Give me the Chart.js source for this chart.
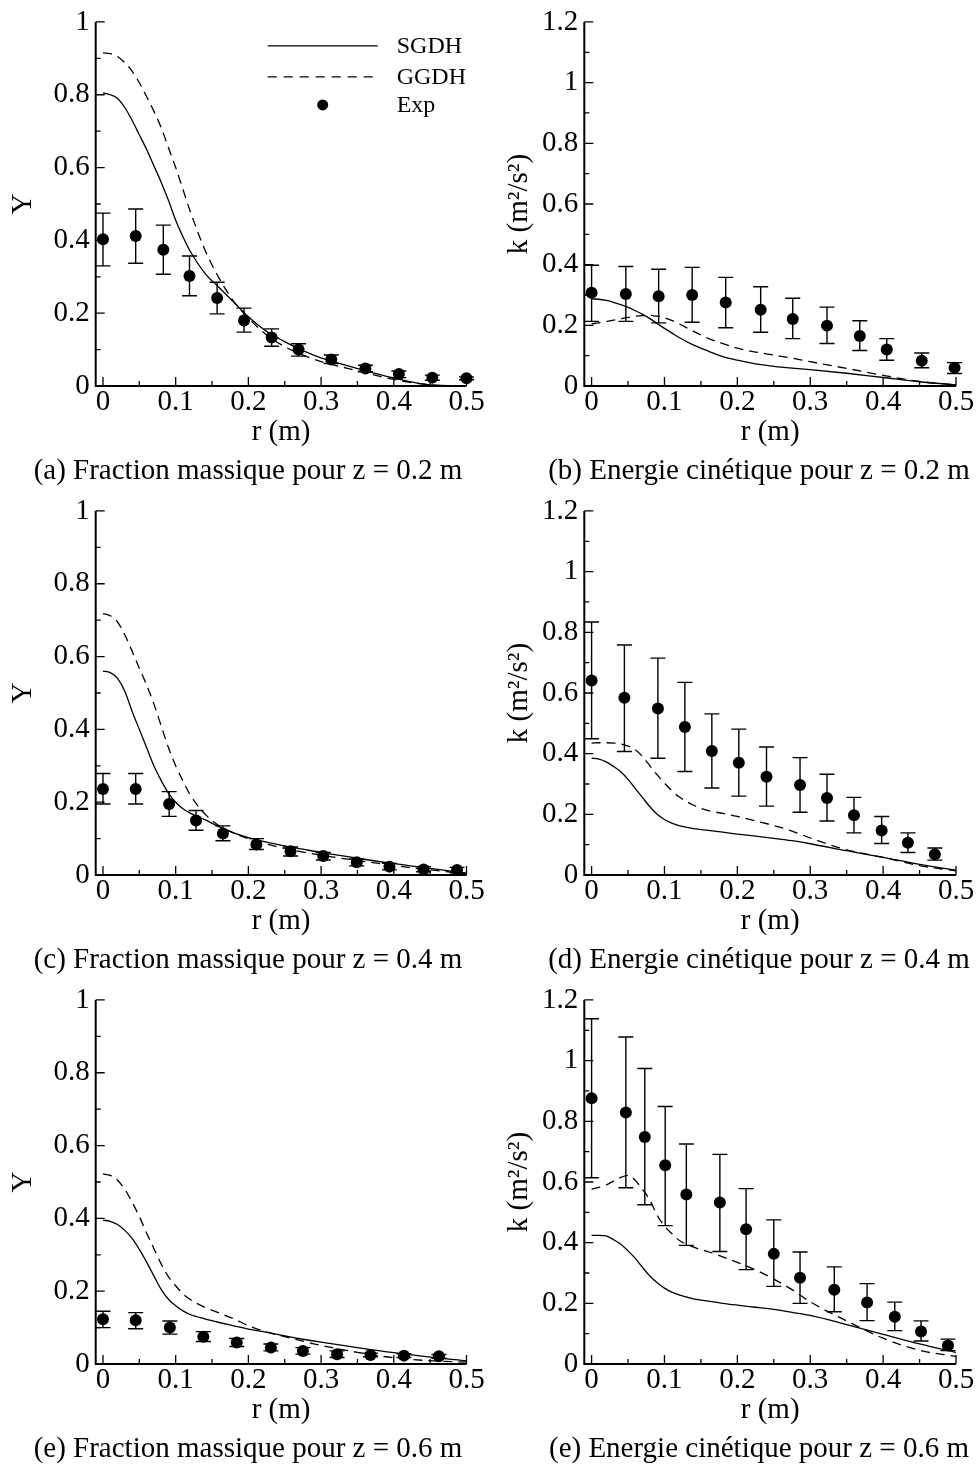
<!DOCTYPE html>
<html>
<head>
<meta charset="utf-8">
<script src="https://cdn.jsdelivr.net/npm/chart.js@4.4.0/dist/chart.umd.min.js"></script>
<style>
  body { margin: 0; background: #fff; }
  #fig { position: relative; width: 977px; height: 1466px; overflow: hidden;
         font-family: 'Liberation Serif', 'Times New Roman', serif; color: #000; }
  #fig canvas { position: absolute; }
  .cap { position: absolute; font-size: 29px; line-height: 34px; white-space: nowrap;
         transform: translateX(-50%); }
</style>
</head>
<body>
<div id="fig"></div>
<script>
// radial positions where the model curves were read
const rCurve = [0, 0.01, 0.02, 0.03, 0.04, 0.05, 0.06, 0.07, 0.08, 0.09, 0.10, 0.11, 0.12,
                0.14, 0.16, 0.18, 0.20, 0.225, 0.25, 0.275, 0.30, 0.35, 0.40, 0.45, 0.50];

// (a) Y, z = 0.2 m
const sgdhA = [0.805, 0.80, 0.79, 0.765, 0.73, 0.69, 0.65, 0.605, 0.56, 0.51, 0.455, 0.41, 0.37,
               0.31, 0.27, 0.23, 0.19, 0.15, 0.122, 0.097, 0.077, 0.048, 0.022, 0.003, 0.0];
const ggdhA = [0.915, 0.913, 0.905, 0.888, 0.865, 0.833, 0.795, 0.755, 0.71, 0.655, 0.60, 0.54, 0.48,
               0.375, 0.295, 0.232, 0.187, 0.14, 0.108, 0.085, 0.067, 0.042, 0.018, 0.003, 0.0];
const expR_a  = [0, 0.045, 0.083, 0.119, 0.157, 0.194, 0.232, 0.269, 0.314, 0.361, 0.407, 0.453, 0.5];
const expY_a  = [0.403, 0.412, 0.374, 0.302, 0.242, 0.18, 0.133, 0.1, 0.073, 0.048, 0.033, 0.023, 0.021];
const expHi_a = [0.475, 0.486, 0.442, 0.357, 0.285, 0.214, 0.157, 0.116, 0.085, 0.057, 0.041, 0.03, 0.025];
const expLo_a = [0.33, 0.337, 0.307, 0.248, 0.198, 0.148, 0.109, 0.082, 0.062, 0.039, 0.023, 0.016, 0.017];

// (b) k, z = 0.2 m
const sgdhB = [0.287, 0.286, 0.282, 0.276, 0.268, 0.259, 0.248, 0.236, 0.222, 0.206, 0.19, 0.175, 0.16,
               0.135, 0.115, 0.097, 0.085, 0.073, 0.065, 0.059, 0.054, 0.042, 0.028, 0.014, 0.004];
const ggdhB = [0.205, 0.208, 0.212, 0.217, 0.222, 0.226, 0.23, 0.232, 0.233, 0.23, 0.225, 0.216, 0.205,
               0.18, 0.157, 0.14, 0.125, 0.112, 0.102, 0.092, 0.08, 0.058, 0.035, 0.015, 0.004];
const expR_b  = [0, 0.047, 0.092, 0.138, 0.184, 0.232, 0.276, 0.323, 0.368, 0.405, 0.453, 0.498];
const expY_b  = [0.307, 0.303, 0.296, 0.3, 0.275, 0.251, 0.221, 0.199, 0.165, 0.12, 0.083, 0.06];
const expHi_b = [0.398, 0.394, 0.385, 0.391, 0.358, 0.327, 0.289, 0.26, 0.215, 0.156, 0.109, 0.077];
const expLo_b = [0.213, 0.213, 0.208, 0.21, 0.192, 0.177, 0.156, 0.14, 0.117, 0.085, 0.06, 0.041];

// (c) Y, z = 0.4 m
const sgdhC = [0.56, 0.556, 0.54, 0.505, 0.45, 0.40, 0.35, 0.30, 0.26, 0.225, 0.20, 0.182, 0.17,
               0.152, 0.132, 0.116, 0.103, 0.09, 0.08, 0.071, 0.062, 0.046, 0.031, 0.018, 0.005];
const ggdhC = [0.718, 0.712, 0.695, 0.66, 0.615, 0.568, 0.522, 0.47, 0.41, 0.35, 0.30, 0.258, 0.22,
               0.168, 0.135, 0.115, 0.10, 0.085, 0.073, 0.063, 0.054, 0.04, 0.026, 0.014, 0.004];
const expR_c  = [0, 0.045, 0.091, 0.128, 0.165, 0.211, 0.258, 0.303, 0.349, 0.394, 0.441, 0.487];
const expY_c  = [0.236, 0.236, 0.195, 0.15, 0.114, 0.084, 0.065, 0.052, 0.035, 0.023, 0.015, 0.014];
const expHi_c = [0.279, 0.279, 0.229, 0.177, 0.135, 0.1, 0.077, 0.062, 0.044, 0.032, 0.023, 0.021];
const expLo_c = [0.195, 0.195, 0.161, 0.123, 0.094, 0.07, 0.052, 0.041, 0.025, 0.014, 0.009, 0.006];

// (d) k, z = 0.4 m
const sgdhD = [0.385, 0.382, 0.373, 0.358, 0.34, 0.315, 0.285, 0.255, 0.225, 0.20, 0.183, 0.171, 0.163,
               0.153, 0.147, 0.141, 0.135, 0.128, 0.121, 0.113, 0.103, 0.08, 0.058, 0.035, 0.016];
const ggdhD = [0.435, 0.436, 0.436, 0.435, 0.432, 0.425, 0.413, 0.39, 0.36, 0.33, 0.303, 0.278, 0.258,
               0.23, 0.212, 0.203, 0.193, 0.178, 0.163, 0.145, 0.122, 0.083, 0.058, 0.031, 0.014];
const expR_d  = [0, 0.045, 0.091, 0.128, 0.165, 0.202, 0.24, 0.286, 0.323, 0.36, 0.398, 0.434, 0.471];
const expY_d  = [0.641, 0.584, 0.549, 0.488, 0.409, 0.37, 0.324, 0.297, 0.254, 0.197, 0.147, 0.106, 0.068];
const expHi_d = [0.834, 0.758, 0.715, 0.635, 0.531, 0.481, 0.422, 0.387, 0.332, 0.256, 0.193, 0.139, 0.089];
const expLo_d = [0.449, 0.407, 0.385, 0.341, 0.287, 0.26, 0.227, 0.207, 0.178, 0.139, 0.104, 0.074, 0.049];

// (e) Y, z = 0.6 m
const sgdhE = [0.395, 0.392, 0.383, 0.367, 0.345, 0.315, 0.28, 0.242, 0.205, 0.178, 0.16, 0.146, 0.136,
               0.124, 0.114, 0.105, 0.096, 0.087, 0.077, 0.068, 0.06, 0.045, 0.031, 0.019, 0.009];
const ggdhE = [0.522, 0.518, 0.505, 0.48, 0.445, 0.405, 0.36, 0.317, 0.275, 0.24, 0.215, 0.193, 0.177,
               0.156, 0.14, 0.124, 0.105, 0.088, 0.075, 0.063, 0.051, 0.032, 0.017, 0.009, 0.005];
const expR_e  = [0, 0.045, 0.092, 0.138, 0.184, 0.231, 0.275, 0.322, 0.368, 0.414, 0.462];
const expY_e  = [0.123, 0.12, 0.1, 0.075, 0.059, 0.045, 0.036, 0.027, 0.025, 0.023, 0.021];
const expHi_e = [0.145, 0.141, 0.118, 0.089, 0.07, 0.055, 0.045, 0.036, 0.03, 0.028, 0.026];
const expLo_e = [0.1, 0.097, 0.082, 0.062, 0.048, 0.036, 0.027, 0.018, 0.02, 0.018, 0.016];

// (e) k, z = 0.6 m
const sgdhF = [0.424, 0.424, 0.422, 0.41, 0.395, 0.373, 0.348, 0.318, 0.29, 0.268, 0.25, 0.237, 0.228,
               0.215, 0.207, 0.20, 0.194, 0.187, 0.18, 0.17, 0.16, 0.13, 0.098, 0.066, 0.038];
const ggdhF = [0.576, 0.582, 0.59, 0.603, 0.615, 0.622, 0.605, 0.575, 0.54, 0.49, 0.455, 0.43, 0.408,
               0.385, 0.37, 0.353, 0.335, 0.31, 0.28, 0.245, 0.205, 0.142, 0.085, 0.045, 0.025];
const expR_f  = [0, 0.047, 0.073, 0.101, 0.13, 0.176, 0.212, 0.25, 0.286, 0.333, 0.378, 0.416, 0.452, 0.489];
const expY_f  = [0.876, 0.829, 0.748, 0.655, 0.559, 0.532, 0.444, 0.363, 0.284, 0.245, 0.203, 0.156, 0.107, 0.061];
const expHi_f = [1.138, 1.078, 0.974, 0.849, 0.725, 0.691, 0.578, 0.475, 0.369, 0.32, 0.265, 0.204, 0.142, 0.082];
const expLo_f = [0.614, 0.581, 0.525, 0.456, 0.391, 0.371, 0.311, 0.256, 0.2, 0.172, 0.143, 0.11, 0.076, 0.044];

// axes
const xTicks = [0, 0.1, 0.2, 0.3, 0.4, 0.5];
const xMinor = [0.05, 0.15, 0.25, 0.35, 0.45];
const yTicksY = [0, 0.2, 0.4, 0.6, 0.8, 1];
const yMinorY = [0.1, 0.3, 0.5, 0.7, 0.9];
const yTicksK = [0, 0.2, 0.4, 0.6, 0.8, 1, 1.2];
const yMinorK = [0.1, 0.3, 0.5, 0.7, 0.9, 1.1];
const legendLabels = ['SGDH', 'GGDH', 'Exp'];

const FONT = "'Liberation Serif', 'Times New Roman', serif";
const fmt = v => String(Number(Number(v).toFixed(2)));

// inward ticks + left/bottom axis lines
const inwardAxes = {
  id: 'inwardAxes',
  afterDraw(chart, args, o) {
    const { ctx, chartArea: a, scales: { x, y } } = chart;
    ctx.save();
    ctx.strokeStyle = '#000';
    ctx.lineWidth = 1.3;
    ctx.beginPath();
    xTicks.forEach(v => { const p = x.getPixelForValue(v); ctx.moveTo(p, a.bottom); ctx.lineTo(p, a.bottom - 9); });
    xMinor.forEach(v => { const p = x.getPixelForValue(v); ctx.moveTo(p, a.bottom); ctx.lineTo(p, a.bottom - 5); });
    o.major.forEach(v => { const p = y.getPixelForValue(v); ctx.moveTo(a.left, p); ctx.lineTo(a.left + 9, p); });
    o.minor.forEach(v => { const p = y.getPixelForValue(v); ctx.moveTo(a.left, p); ctx.lineTo(a.left + 5, p); });
    ctx.stroke();
    ctx.lineWidth = 2;
    ctx.beginPath();
    ctx.moveTo(a.left, a.top);
    ctx.lineTo(a.left, a.bottom);
    ctx.lineTo(a.right, a.bottom);
    ctx.stroke();
    ctx.restore();
  }
};

// vertical error bars with caps on the Exp dataset
const errorBars = {
  id: 'errorBars',
  afterDatasetsDraw(chart, args, o) {
    const { ctx, scales: { x, y } } = chart;
    ctx.save();
    ctx.strokeStyle = '#000';
    ctx.lineWidth = 1.4;
    ctx.beginPath();
    o.r.forEach((r, i) => {
      const px = x.getPixelForValue(r);
      const hi = y.getPixelForValue(o.hi[i]);
      const lo = y.getPixelForValue(o.lo[i]);
      ctx.moveTo(px, hi); ctx.lineTo(px, lo);
      ctx.moveTo(px - 7.5, hi); ctx.lineTo(px + 7.5, hi);
      ctx.moveTo(px - 7.5, lo); ctx.lineTo(px + 7.5, lo);
    });
    ctx.stroke();
    ctx.restore();
  }
};

// legend box in panel (a)
const panelLegend = {
  id: 'panelLegend',
  afterDraw(chart, args, o) {
    if (!o.show) return;
    const { ctx, chartArea: a } = chart;
    const x0 = a.left + 172, x1 = a.left + 282, tx = a.left + 301;
    const rows = [a.top + 24, a.top + 55, a.top + 83];
    ctx.save();
    ctx.strokeStyle = '#000';
    ctx.lineWidth = 1.3;
    ctx.beginPath(); ctx.moveTo(x0, rows[0]); ctx.lineTo(x1, rows[0]); ctx.stroke();
    ctx.setLineDash([9, 7]);
    ctx.beginPath(); ctx.moveTo(x0, rows[1]); ctx.lineTo(x1, rows[1]); ctx.stroke();
    ctx.setLineDash([]);
    ctx.fillStyle = '#000';
    ctx.beginPath(); ctx.arc((x0 + x1) / 2, rows[2], 5.5, 0, Math.PI * 2); ctx.fill();
    ctx.font = "24px " + FONT;
    ctx.textBaseline = 'middle';
    ctx.textAlign = 'left';
    legendLabels.forEach((t, i) => ctx.fillText(t, tx, rows[i] + 1));
    ctx.restore();
  }
};

const panels = [
  { left: 0,   top: 0,   w: 489, kind: 'Y', sgdh: sgdhA, ggdh: ggdhA, r: expR_a, v: expY_a, hi: expHi_a, lo: expLo_a,
    cap: '(a) Fraction massique pour z = 0.2 m', legend: true },
  { left: 489, top: 0,   w: 488, kind: 'k', sgdh: sgdhB, ggdh: ggdhB, r: expR_b, v: expY_b, hi: expHi_b, lo: expLo_b,
    cap: '(b) Energie cinétique pour z = 0.2 m' },
  { left: 0,   top: 489, w: 489, kind: 'Y', sgdh: sgdhC, ggdh: ggdhC, r: expR_c, v: expY_c, hi: expHi_c, lo: expLo_c,
    cap: '(c) Fraction massique pour z = 0.4 m' },
  { left: 489, top: 489, w: 488, kind: 'k', sgdh: sgdhD, ggdh: ggdhD, r: expR_d, v: expY_d, hi: expHi_d, lo: expLo_d,
    cap: '(d) Energie cinétique pour z = 0.4 m' },
  { left: 0,   top: 978, w: 489, kind: 'Y', sgdh: sgdhE, ggdh: ggdhE, r: expR_e, v: expY_e, hi: expHi_e, lo: expLo_e,
    cap: '(e) Fraction massique pour z = 0.6 m' },
  { left: 489, top: 978, w: 488, kind: 'k', sgdh: sgdhF, ggdh: ggdhF, r: expR_f, v: expY_f, hi: expHi_f, lo: expLo_f,
    cap: '(e) Energie cinétique pour z = 0.6 m' },
];

const fig = document.getElementById('fig');
const H = 489;

panels.forEach(p => {
  const isY = p.kind === 'Y';
  const chartLeft = p.left === 0 ? 95.7 : 95.3;
  const chartRight = p.left === 0 ? 466.5 : 467;
  const padL = isY ? 5.6 : 12.6;

  const cv = document.createElement('canvas');
  cv.width = p.w; cv.height = H;
  cv.style.left = p.left + 'px';
  cv.style.top = p.top + 'px';
  fig.appendChild(cv);

  const cap = document.createElement('div');
  cap.className = 'cap';
  cap.textContent = p.cap;
  cap.style.left = (p.left === 0 ? 248 : 759) + 'px';
  cap.style.top = (p.top + 452) + 'px';
  fig.appendChild(cap);

  const tickFont = { family: FONT, size: 29, lineHeight: 1.1 };
  const titleFont = { family: FONT, size: 29, lineHeight: 1.2 };

  new Chart(cv.getContext('2d'), {
    type: 'scatter',
    data: {
      datasets: [
        { type: 'line', label: 'SGDH', data: rCurve.map((r, i) => ({ x: r, y: p.sgdh[i] })),
          borderColor: '#000', borderWidth: 1.3, pointRadius: 0, fill: false, cubicInterpolationMode: 'monotone' },
        { type: 'line', label: 'GGDH', data: rCurve.map((r, i) => ({ x: r, y: p.ggdh[i] })),
          borderColor: '#000', borderWidth: 1.3, borderDash: [9, 6], pointRadius: 0, fill: false, cubicInterpolationMode: 'monotone' },
        { type: 'scatter', label: 'Exp', data: p.r.map((r, i) => ({ x: r, y: p.v[i] })),
          pointRadius: 6, backgroundColor: '#000', borderColor: '#000', borderWidth: 0, clip: false },
      ],
    },
    options: {
      responsive: false,
      animation: false,
      devicePixelRatio: 1,
      events: [],
      layout: { padding: { left: padL, right: p.w - chartRight, top: 19.3, bottom: 39 } },
      plugins: {
        legend: { display: false },
        tooltip: { enabled: false },
        inwardAxes: { major: isY ? yTicksY : yTicksK, minor: isY ? yMinorY : yMinorK },
        errorBars: { r: p.r, hi: p.hi, lo: p.lo },
        panelLegend: { show: !!p.legend },
      },
      scales: {
        x: {
          type: 'linear', min: -0.01, max: 0.5,
          afterBuildTicks: s => { s.ticks = xTicks.map(v => ({ value: v })); },
          afterFit: s => { s.height = 64; },
          grid: { display: false, drawTicks: false },
          border: { display: false },
          ticks: { font: tickFont, color: '#000', padding: 0, maxRotation: 0, autoSkip: false, callback: fmt },
          title: { display: true, text: 'r (m)', font: titleFont, color: '#000', padding: 0 },
        },
        y: {
          type: 'linear', min: 0, max: isY ? 1 : 1.2,
          afterBuildTicks: s => { s.ticks = (isY ? yTicksY : yTicksK).map(v => ({ value: v })); },
          afterFit: s => { s.width = chartLeft - padL; },
          grid: { display: false, drawTicks: false },
          border: { display: false },
          ticks: { font: tickFont, color: '#000', padding: 6, autoSkip: false, callback: fmt },
          title: { display: true, text: isY ? 'Y' : 'k (m²/s²)', font: titleFont, color: '#000', padding: 0 },
        },
      },
    },
    plugins: [inwardAxes, errorBars, panelLegend],
  });
});
</script>
</body>
</html>
